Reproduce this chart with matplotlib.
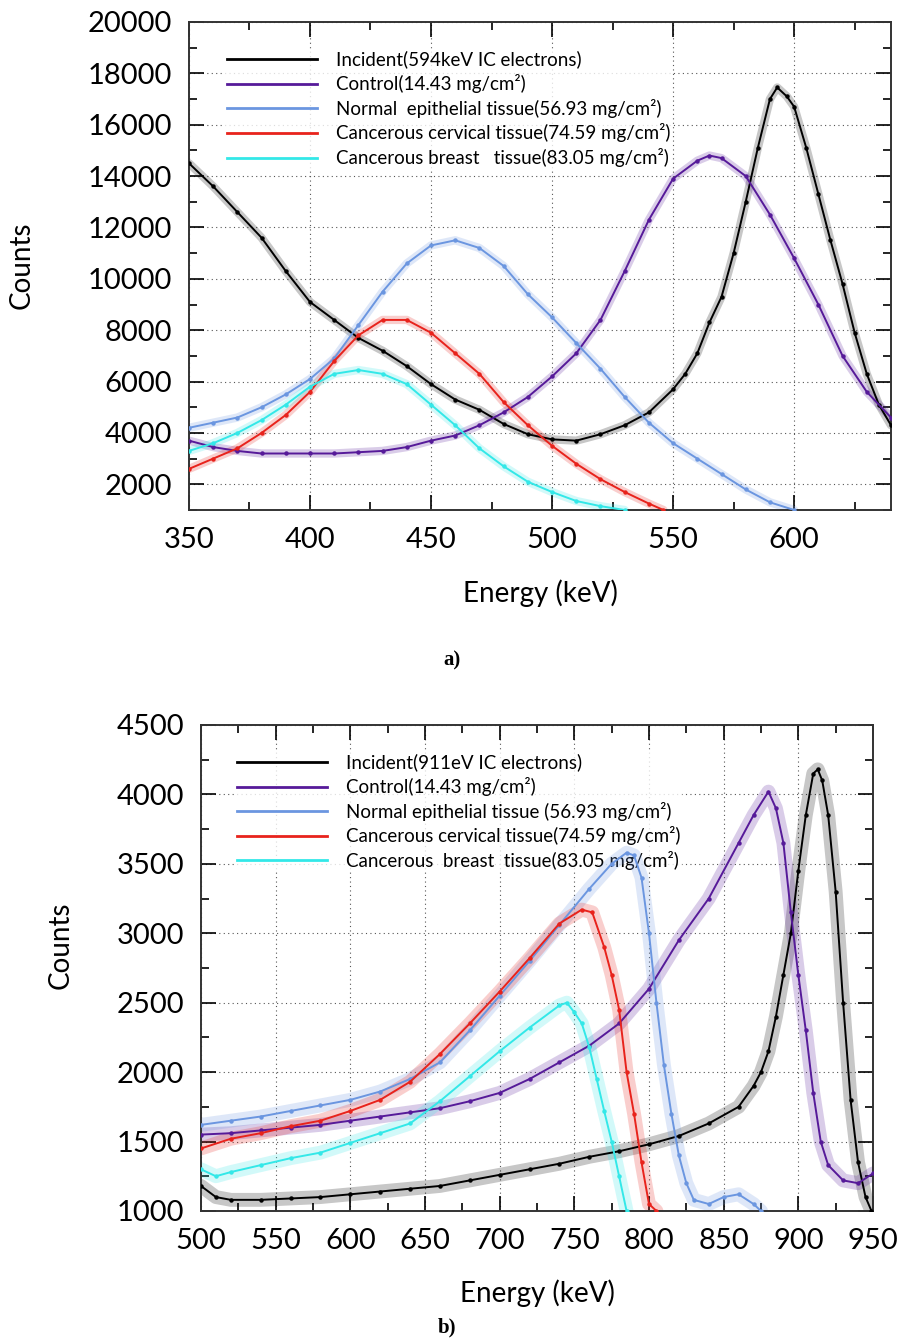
import matplotlib
matplotlib.use("Agg")
import matplotlib.pyplot as plt
from matplotlib.lines import Line2D
from matplotlib.ticker import MultipleLocator

plt.rcParams['font.family'] = ['Lato', 'DejaVu Sans']

# ---- panel a : 594 keV IC electrons ----
labels_a = ['Incident(594keV IC electrons)',
            'Control(14.43 mg/cm\u00b2)',
            'Normal  epithelial tissue(56.93 mg/cm\u00b2)',
            'Cancerous cervical tissue(74.59 mg/cm\u00b2)',
            'Cancerous breast   tissue(83.05 mg/cm\u00b2)']

e_inc_a = [350, 360, 370, 380, 390, 400, 410, 420, 430, 440, 450, 460, 470, 480,
           490, 500, 510, 520, 530, 540, 550, 555, 560, 565, 570, 575, 580, 585,
           590, 593, 597, 600, 605, 610, 615, 620, 625, 630, 635, 640]
c_inc_a = [14500, 13600, 12600, 11600, 10300, 9100, 8400, 7700, 7200, 6600, 5900,
           5300, 4900, 4350, 3950, 3750, 3700, 3950, 4300, 4800, 5700, 6300, 7100,
           8300, 9300, 11000, 13000, 15100, 17000, 17450, 17100, 16700, 15100,
           13300, 11500, 9800, 7900, 6300, 5100, 4300]

e_ctl_a = [350, 360, 370, 380, 390, 400, 410, 420, 430, 440, 450, 460, 470, 480,
           490, 500, 510, 520, 530, 540, 550, 560, 565, 570, 580, 590, 600, 610,
           620, 630, 640]
c_ctl_a = [3700, 3450, 3300, 3200, 3200, 3200, 3200, 3250, 3300, 3450, 3700, 3900,
           4300, 4800, 5400, 6200, 7100, 8400, 10300, 12300, 13900, 14600, 14800,
           14700, 14000, 12500, 10800, 9000, 7000, 5600, 4600]

e_nor_a = [350, 360, 370, 380, 390, 400, 410, 420, 430, 440, 450, 460, 470, 480,
           490, 500, 510, 520, 530, 540, 550, 560, 570, 580, 590, 600]
c_nor_a = [4200, 4400, 4600, 5000, 5500, 6100, 6900, 8200, 9500, 10600, 11300,
           11500, 11200, 10500, 9400, 8500, 7500, 6500, 5400, 4400, 3600, 3000,
           2400, 1800, 1300, 1000]

e_cer_a = [350, 360, 370, 380, 390, 400, 410, 420, 430, 440, 450, 460, 470, 480,
           490, 500, 510, 520, 530, 540, 546]
c_cer_a = [2600, 3000, 3400, 4000, 4700, 5600, 6800, 7800, 8400, 8400, 7900, 7100,
           6300, 5200, 4300, 3500, 2800, 2200, 1700, 1250, 1000]

e_bre_a = [350, 360, 370, 380, 390, 400, 410, 420, 430, 440, 450, 460, 470, 480,
           490, 500, 510, 520, 530]
c_bre_a = [3300, 3600, 4000, 4500, 5100, 5800, 6300, 6450, 6300, 5900, 5100, 4300,
           3400, 2700, 2100, 1700, 1350, 1150, 1000]

# ---- panel b : 911 keV IC electrons ----
labels_b = ['Incident(911eV IC electrons)',
            'Control(14.43 mg/cm\u00b2)',
            'Normal epithelial tissue (56.93 mg/cm\u00b2)',
            'Cancerous cervical tissue(74.59 mg/cm\u00b2)',
            'Cancerous  breast  tissue(83.05 mg/cm\u00b2)']

e_inc_b = [500, 510, 520, 540, 560, 580, 600, 620, 640, 660, 680, 700, 720, 740,
           760, 780, 800, 820, 840, 860, 870, 875, 880, 885, 890, 895, 900, 905,
           910, 913, 916, 920, 925, 930, 935, 940, 945, 949]
c_inc_b = [1180, 1100, 1080, 1080, 1090, 1100, 1120, 1140, 1160, 1180, 1220, 1260,
           1300, 1340, 1390, 1430, 1480, 1540, 1630, 1750, 1900, 2000, 2150, 2400,
           2700, 3000, 3450, 3850, 4150, 4180, 4100, 3850, 3300, 2500, 1800, 1350,
           1100, 1000]

e_ctl_b = [500, 520, 540, 560, 580, 600, 620, 640, 660, 680, 700, 720, 740, 760,
           780, 800, 820, 840, 860, 870, 880, 885, 890, 895, 900, 905, 910, 915,
           920, 930, 940, 950]
c_ctl_b = [1550, 1560, 1580, 1600, 1620, 1650, 1680, 1710, 1740, 1790, 1850, 1950,
           2070, 2190, 2350, 2600, 2950, 3250, 3650, 3850, 4020, 3900, 3650, 3150,
           2700, 2300, 1850, 1500, 1330, 1220, 1200, 1270]

e_nor_b = [500, 520, 540, 560, 580, 600, 620, 640, 660, 680, 700, 720, 740, 760,
           775, 785, 790, 795, 800, 805, 810, 815, 820, 825, 830, 840, 850, 860,
           870, 875]
c_nor_b = [1620, 1650, 1680, 1720, 1760, 1800, 1860, 1950, 2070, 2300, 2550, 2800,
           3060, 3320, 3500, 3580, 3560, 3400, 3000, 2500, 2050, 1700, 1400, 1200,
           1080, 1050, 1100, 1120, 1050, 1000]

e_cer_b = [500, 520, 540, 560, 580, 600, 620, 640, 660, 680, 700, 720, 740, 755,
           762, 770, 775, 780, 785, 790, 795, 800, 805]
c_cer_b = [1450, 1520, 1560, 1610, 1650, 1720, 1800, 1930, 2130, 2350, 2580, 2820,
           3070, 3170, 3150, 2900, 2700, 2450, 2000, 1700, 1350, 1050, 1000]

e_bre_b = [500, 510, 520, 540, 560, 580, 600, 620, 640, 660, 680, 700, 720, 740,
           745, 750, 755, 760, 765, 770, 775, 780, 785]
c_bre_b = [1300, 1250, 1280, 1330, 1380, 1420, 1490, 1560, 1630, 1790, 1970, 2150,
           2320, 2480, 2500, 2430, 2350, 2180, 1950, 1720, 1500, 1250, 1000]

colors = ['black', '#561a99', '#6b96e0', '#e8231c', '#33e8e8']


def draw_panel(ax, series, band):
    for (e, c), col in zip(series, colors):
        # measurement cloud, then fitted curve
        ax.plot(e, c, color=col, lw=band, alpha=0.22, solid_capstyle='round',
                solid_joinstyle='round', zorder=2)
        ax.plot(e, c, color=col, lw=1.4, marker='o', ms=2.2, zorder=3)
    ax.set_axisbelow(True)
    ax.grid(True, which='major', ls=(0, (1, 3)), color='#555555', lw=0.8)
    ax.tick_params(which='both', direction='in', top=True, right=True,
                   labelsize=21, pad=12, width=1.2)
    ax.tick_params(which='major', length=11)
    ax.tick_params(which='minor', length=6)
    for s in ax.spines.values():
        s.set_linewidth(1.4)
        s.set_color('#333333')
    return [Line2D([], [], color=col, lw=2) for col in colors]


def add_legend(ax, handles, labels, anchor):
    leg = ax.legend(handles, labels, loc='upper left', bbox_to_anchor=anchor,
                    borderpad=0.1, borderaxespad=0, handlelength=4.8,
                    handletextpad=1.0, labelspacing=0.3, fontsize=13.5,
                    frameon=True, fancybox=False)
    leg.get_frame().set_edgecolor('none')
    leg.get_frame().set_facecolor('white')
    # legend sits above the grid but under the curves
    leg.set_zorder(1.5)


fig = plt.figure(figsize=(9.04, 13.4), dpi=100)

ax1 = fig.add_axes([0.209, 0.6194, 0.7766, 0.3642])
h = draw_panel(ax1, [(e_inc_a, c_inc_a), (e_ctl_a, c_ctl_a), (e_nor_a, c_nor_a),
                     (e_cer_a, c_cer_a), (e_bre_a, c_bre_a)], 6)
ax1.set_xlim(350, 640)
ax1.set_ylim(1000, 20000)
ax1.xaxis.set_major_locator(MultipleLocator(50))
ax1.xaxis.set_minor_locator(MultipleLocator(25))
ax1.yaxis.set_minor_locator(MultipleLocator(1000))
ax1.set_yticks(range(2000, 20001, 2000))
add_legend(ax1, h, labels_a, (0.052, 0.945))

ax2 = fig.add_axes([0.2223, 0.0963, 0.7434, 0.3627])
h = draw_panel(ax2, [(e_inc_b, c_inc_b), (e_ctl_b, c_ctl_b), (e_nor_b, c_nor_b),
                     (e_cer_b, c_cer_b), (e_bre_b, c_bre_b)], 10)
ax2.set_xlim(500, 950)
ax2.set_ylim(1000, 4500)
ax2.xaxis.set_major_locator(MultipleLocator(50))
ax2.xaxis.set_minor_locator(MultipleLocator(25))
ax2.yaxis.set_major_locator(MultipleLocator(500))
ax2.yaxis.set_minor_locator(MultipleLocator(250))
add_legend(ax2, h, labels_b, (0.051, 0.945))

fig.text(22 / 904, 1 - 265 / 1340, 'Counts', rotation=90, fontsize=20,
         ha='center', va='center')
fig.text(540 / 904, 1 - 593 / 1340, 'Energy (keV)', fontsize=20,
         ha='center', va='center')
fig.text(61 / 904, 1 - 945 / 1340, 'Counts', rotation=90, fontsize=20,
         ha='center', va='center')
fig.text(537 / 904, 1 - 1293 / 1340, 'Energy (keV)', fontsize=20,
         ha='center', va='center')
fig.text(452 / 904, 1 - 660 / 1340, 'a)', fontsize=15, fontweight='bold',
         family='Liberation Serif', ha='center', va='center')
fig.text(447 / 904, 1 - 1327 / 1340, 'b)', fontsize=15, fontweight='bold',
         family='Liberation Serif', ha='center', va='center')

fig.savefig('out.png', dpi=100)
